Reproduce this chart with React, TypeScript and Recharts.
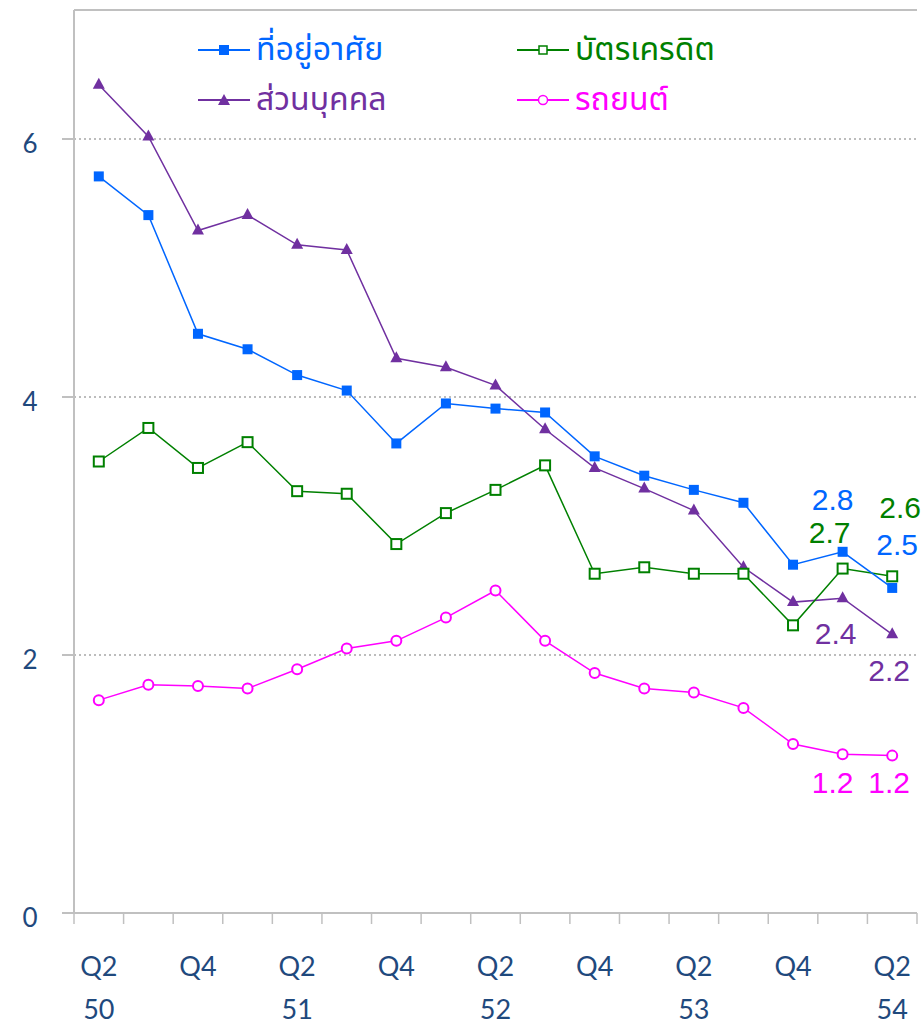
import React from "react";
import {
  CartesianGrid,
  LabelList,
  Line,
  LineChart,
  ReferenceLine,
  XAxis,
  YAxis,
} from "recharts";

// quarters Q2/50 .. Q2/54
const categories = [
  "Q2 50", "Q3 50", "Q4 50", "Q1 51",
  "Q2 51", "Q3 51", "Q4 51", "Q1 52",
  "Q2 52", "Q3 52", "Q4 52", "Q1 53",
  "Q2 53", "Q3 53", "Q4 53", "Q1 54",
  "Q2 54",
];

const housing = [5.71, 5.41, 4.49, 4.37, 4.17, 4.05, 3.64, 3.95, 3.91, 3.88, 3.54, 3.39, 3.28, 3.18, 2.7, 2.8, 2.52];
const creditCard = [3.5, 3.76, 3.45, 3.65, 3.27, 3.25, 2.86, 3.1, 3.28, 3.47, 2.63, 2.68, 2.63, 2.63, 2.23, 2.67, 2.61];
const personal = [6.42, 6.02, 5.29, 5.41, 5.18, 5.14, 4.3, 4.23, 4.09, 3.75, 3.45, 3.29, 3.12, 2.68, 2.41, 2.44, 2.16];
const car = [1.65, 1.77, 1.76, 1.74, 1.89, 2.05, 2.11, 2.29, 2.5, 2.11, 1.86, 1.74, 1.71, 1.59, 1.31, 1.23, 1.22];

const yTicks = [0, 2, 4, 6];

const seriesNames = {
  housing: "ที่อยู่อาศัย",
  creditCard: "บัตรเครดิต",
  personal: "ส่วนบุคคล",
  car: "รถยนต์",
};

const data = categories.map((c, i) => ({
  name: c,
  housing: housing[i],
  creditCard: creditCard[i],
  personal: personal[i],
  car: car[i],
}));

const W = 922;
const H = 1027;
const PLOT_LEFT = 74;
const PLOT_RIGHT = 917;
const BAND = (PLOT_RIGHT - PLOT_LEFT) / categories.length;

const BLUE = "#0066FF";
const GREEN = "#008000";
const PURPLE = "#7030A0";
const MAGENTA = "#FF00FF";
const AXIS = "#C0C0C0";
const TEXT = "#1F497D";
const THAI_FONT = "'Noto Sans Thai', 'Noto Sans Thai Looped', 'Noto Sans', sans-serif";
const NUM_FONT = "'Liberation Sans', Arial, sans-serif";
const TICK_FONT = "Lato, sans-serif";

const squareDot = (color: string, filled: boolean) => (p: any) => (
  <rect
    key={`s-${color}-${p.index}`}
    x={p.cx - 5}
    y={p.cy - 5}
    width={10}
    height={10}
    fill={filled ? color : "#fff"}
    stroke={color}
    strokeWidth={filled ? 0 : 2}
  />
);

const triangleDot = (color: string) => (p: any) => (
  <path
    key={`t-${p.index}`}
    d={`M${p.cx},${p.cy - 7} L${p.cx + 6},${p.cy + 4} L${p.cx - 6},${p.cy + 4} Z`}
    fill={color}
  />
);

const circleDot = (color: string) => (p: any) => (
  <circle key={`c-${p.index}`} cx={p.cx} cy={p.cy} r={5} fill="#fff" stroke={color} strokeWidth={2} />
);

// value labels only on the two last points
const makeLabel = (color: string, offsets: Record<number, [number, number]>) => (p: any) => {
  const off = offsets[p.index];
  if (!off) return null;
  return (
    <text
      key={`l-${color}-${p.index}`}
      x={p.x + off[0]}
      y={p.y + off[1]}
      fill={color}
      fontSize={30}
      fontFamily={NUM_FONT}
      textAnchor="middle"
    >
      {Number(p.value).toFixed(1)}
    </text>
  );
};

const XTick = (props: any) => {
  const { x, y, payload, index } = props;
  const [q, yr] = String(payload.value).split(" ");
  const last = index === categories.length - 1;
  return (
    <g>
      <line x1={x - BAND / 2} x2={x - BAND / 2} y1={y} y2={y + 11} stroke={AXIS} strokeWidth={1.5} />
      {last && <line x1={x + BAND / 2} x2={x + BAND / 2} y1={y} y2={y + 11} stroke={AXIS} strokeWidth={1.5} />}
      {index % 2 === 0 && (
        <text x={x} y={y + 63} textAnchor="middle" fill={TEXT} fontSize={27} fontFamily={TICK_FONT}>
          {q}
        </text>
      )}
      {q === "Q2" && (
        <text x={x} y={y + 106} textAnchor="middle" fill={TEXT} fontSize={27} fontFamily={TICK_FONT}>
          {yr}
        </text>
      )}
    </g>
  );
};

const YTick = (props: any) => {
  const { y, payload } = props;
  return (
    <text x={30} y={y + 14} textAnchor="middle" fill={TEXT} fontSize={26} fontFamily={TICK_FONT}>
      {payload.value}
    </text>
  );
};

const legendItems = [
  { key: "housing", color: BLUE, marker: "fsquare", left: 198, top: 50 },
  { key: "creditCard", color: GREEN, marker: "osquare", left: 517, top: 50 },
  { key: "personal", color: PURPLE, marker: "triangle", left: 198, top: 100 },
  { key: "car", color: MAGENTA, marker: "circle", left: 517, top: 100 },
];

const LegendIcon = ({ color, marker }: { color: string; marker: string }) => (
  <svg width={54} height={14} style={{ display: "block" }}>
    <line x1={0} x2={52} y1={7} y2={7} stroke={color} strokeWidth={2} />
    {marker === "fsquare" && <rect x={21} y={2} width={10} height={10} fill={color} />}
    {marker === "osquare" && <rect x={22} y={3} width={8} height={8} fill="#fff" stroke={color} strokeWidth={1.5} />}
    {marker === "triangle" && <path d="M26,1 L32,12 L20,12 Z" fill={color} />}
    {marker === "circle" && <circle cx={26} cy={7} r={4.5} fill="#fff" stroke={color} strokeWidth={1.5} />}
  </svg>
);

export default function App() {
  return (
    <div style={{ position: "absolute", left: 0, top: 0, width: W, height: H, background: "#fff" }}>
      <LineChart width={W} height={H} data={data} margin={{ top: 10, right: 5, left: 0, bottom: 0 }}>
        <CartesianGrid
          vertical={false}
          horizontalValues={[2, 4, 6]}
          stroke="#A6A6A6"
          strokeDasharray="2 3"
          strokeWidth={1.5}
        />
        <XAxis
          dataKey="name"
          scale="band"
          interval={0}
          height={114}
          tickLine={false}
          tickSize={0}
          tickMargin={0}
          axisLine={{ stroke: AXIS, strokeWidth: 2 }}
          tick={<XTick />}
        />
        <YAxis
          domain={[0, 7]}
          ticks={yTicks}
          width={74}
          tickSize={12}
          tickLine={{ stroke: AXIS, strokeWidth: 2 }}
          axisLine={{ stroke: AXIS, strokeWidth: 2 }}
          tick={<YTick />}
        />
        <YAxis
          yAxisId="frame"
          orientation="right"
          domain={[0, 7]}
          width={0}
          tick={false}
          tickLine={false}
          axisLine={{ stroke: AXIS, strokeWidth: 2 }}
        />
        <ReferenceLine y={7} stroke={AXIS} strokeWidth={2} />

        <Line
          dataKey="personal"
          name={seriesNames.personal}
          stroke={PURPLE}
          strokeWidth={1.5}
          dot={triangleDot(PURPLE)}
          activeDot={false}
          isAnimationActive={false}
        >
          <LabelList dataKey="personal" content={makeLabel(PURPLE, { 15: [-7, 46], 16: [-3, 47] })} />
        </Line>
        <Line
          dataKey="creditCard"
          name={seriesNames.creditCard}
          stroke={GREEN}
          strokeWidth={1.5}
          dot={squareDot(GREEN, false)}
          activeDot={false}
          isAnimationActive={false}
        >
          <LabelList dataKey="creditCard" content={makeLabel(GREEN, { 15: [-13, -26], 16: [8, -58] })} />
        </Line>
        <Line
          dataKey="housing"
          name={seriesNames.housing}
          stroke={BLUE}
          strokeWidth={1.5}
          dot={squareDot(BLUE, true)}
          activeDot={false}
          isAnimationActive={false}
        >
          <LabelList dataKey="housing" content={makeLabel(BLUE, { 15: [-10, -42], 16: [5, -33] })} />
        </Line>
        <Line
          dataKey="car"
          name={seriesNames.car}
          stroke={MAGENTA}
          strokeWidth={1.5}
          dot={circleDot(MAGENTA)}
          activeDot={false}
          isAnimationActive={false}
        >
          <LabelList dataKey="car" content={makeLabel(MAGENTA, { 15: [-10, 39], 16: [-3, 37] })} />
        </Line>
      </LineChart>

      {legendItems.map((it) => (
        <div
          key={it.key}
          style={{
            position: "absolute",
            left: it.left,
            top: it.top - 24,
            height: 48,
            display: "flex",
            alignItems: "center",
            gap: 4,
            color: it.color,
            fontFamily: THAI_FONT,
            fontSize: 32,
            whiteSpace: "nowrap",
          }}
        >
          <LegendIcon color={it.color} marker={it.marker} />
          <span>{seriesNames[it.key as keyof typeof seriesNames]}</span>
        </div>
      ))}
    </div>
  );
}
